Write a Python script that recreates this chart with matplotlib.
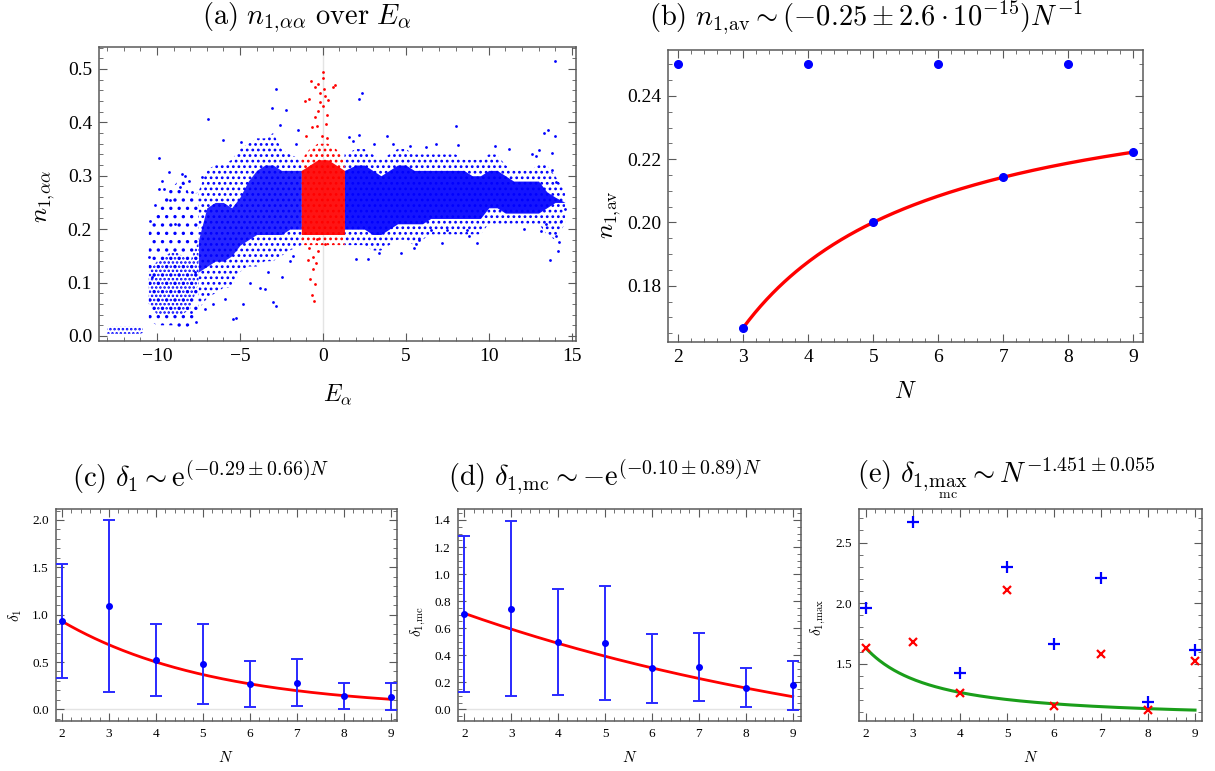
import numpy as np
import matplotlib
matplotlib.use("Agg")
import matplotlib.pyplot as plt
from matplotlib.ticker import MultipleLocator, FormatStrFormatter

plt.rcParams["mathtext.fontset"] = "cm"
plt.rcParams["font.family"] = ["Liberation Serif", "DejaVu Serif"]
plt.rcParams["hatch.linewidth"] = 1.2

# ---------------- panel (a): n_{1,aa} over E_a ----------------
# dense bands read off the scatter cloud (x, core low/high, halo low/high)
cluster_x = [-13.0, -12.0, -11.0, -10.85]
cluster_lo = [0.004, 0.004, 0.004, 0.006]
cluster_hi = [0.017, 0.018, 0.017, 0.016]

far_x = [-10.5, -10.0, -9.5, -9.0, -8.5, -8.0, -7.5]
far_core_lo = [0.06, 0.04, 0.04, 0.04, 0.04, 0.05, 0.10]
far_core_hi = [0.12, 0.14, 0.15, 0.16, 0.15, 0.14, 0.18]
far_halo_lo = [0.03, 0.02, 0.02, 0.02, 0.01, 0.02, 0.05]
far_halo_hi = [0.20, 0.24, 0.27, 0.28, 0.30, 0.26, 0.27]

left_x = [-7.5, -7.0, -6.5, -6.0, -5.5, -5.0, -4.5, -4.0, -3.5, -3.0, -2.5, -2.0, -1.3]
left_core_lo = [0.12, 0.13, 0.14, 0.14, 0.15, 0.17, 0.18, 0.19, 0.19, 0.19, 0.19, 0.20, 0.20]
left_core_hi = [0.18, 0.24, 0.25, 0.25, 0.24, 0.26, 0.29, 0.31, 0.32, 0.32, 0.31, 0.31, 0.31]
left_halo_lo = [0.05, 0.07, 0.08, 0.09, 0.09, 0.12, 0.13, 0.13, 0.14, 0.14, 0.15, 0.16, 0.17]
left_halo_hi = [0.27, 0.31, 0.32, 0.32, 0.33, 0.35, 0.36, 0.37, 0.37, 0.38, 0.35, 0.34, 0.33]

mid_x = [-1.3, -0.8, -0.3, 0.3, 0.8, 1.3]
mid_core_lo = [0.19, 0.19, 0.19, 0.19, 0.19, 0.19]
mid_core_hi = [0.31, 0.32, 0.33, 0.33, 0.32, 0.31]
mid_halo_lo = [0.17, 0.17, 0.17, 0.17, 0.17, 0.17]
mid_halo_hi = [0.33, 0.35, 0.36, 0.36, 0.35, 0.33]

right_x = [1.3, 2.0, 2.5, 3.0, 3.5, 4.0, 4.5, 5.0, 5.5, 6.0, 6.5, 7.0, 7.5, 8.0,
           8.5, 9.0, 9.5, 10.0, 10.5, 11.0, 11.5, 12.0, 12.5, 13.0, 13.5, 14.0, 14.6]
right_core_lo = [0.20, 0.20, 0.20, 0.19, 0.19, 0.20, 0.21, 0.21, 0.21, 0.21, 0.22,
                 0.22, 0.22, 0.22, 0.22, 0.22, 0.22, 0.24, 0.24, 0.23, 0.23, 0.23,
                 0.23, 0.23, 0.24, 0.25, 0.25]
right_core_hi = [0.31, 0.32, 0.32, 0.31, 0.30, 0.31, 0.32, 0.32, 0.31, 0.31, 0.31,
                 0.31, 0.31, 0.31, 0.31, 0.30, 0.30, 0.31, 0.31, 0.30, 0.29, 0.29,
                 0.29, 0.29, 0.27, 0.26, 0.25]
right_halo_lo = [0.17, 0.17, 0.17, 0.16, 0.16, 0.17, 0.18, 0.18, 0.17, 0.18, 0.19,
                 0.19, 0.19, 0.19, 0.19, 0.19, 0.19, 0.21, 0.21, 0.21, 0.21, 0.21,
                 0.21, 0.21, 0.19, 0.18, 0.21]
right_halo_hi = [0.34, 0.35, 0.35, 0.34, 0.33, 0.34, 0.35, 0.35, 0.34, 0.34, 0.34,
                 0.34, 0.34, 0.34, 0.33, 0.33, 0.33, 0.34, 0.34, 0.32, 0.31, 0.31,
                 0.31, 0.32, 0.32, 0.30, 0.27]

# scattered single points outside the bands
blue_out_x = [-9.9, -9.29, -8.49, -8.3, -9.86, -9.6, -8.63, -10.48, -10.32,
              -6.94, -7.88, -7.28, -6.04, -4.93, -2.82, -3.08, -2.21, -2.61,
              -5.42, -5.22, -3.02, -2.82, -4.82, -3.52, -2.48, -7.64, -7.94,
              2.34, 2.2, 2.18, 1.6, 3.85, 2.0, 3.4, -1.78, -1.5,
              8.04, 8.12, 6.2, 5.25, 5.59, 5.79, 5.49, 8.8, 8.66, 7.5, 6.5,
              14.0, 13.58, 13.34, 14.0, 13.8, 13.7, 14.18, 14.24, 14.08, 14.6,
              14.34, 14.04, 13.84, 13.0, 12.86, 13.14, 13.44,
              -10.4, -10.1, -9.7, -9.2, -8.9, -8.1, -7.7, -7.1, -6.6, -5.9,
              -4.4, -3.8, -3.3, -2.0, -1.6, 1.8, 2.7, 3.1, 4.2, 4.7, 6.8,
              7.2, 9.3, 10.4, 11.2, 12.1, 12.6]
blue_out_y = [0.333, 0.307, 0.304, 0.300, 0.276, 0.275, 0.278, 0.148, 0.111,
              0.407, 0.269, 0.298, 0.366, 0.363, 0.463, 0.426, 0.423, 0.395,
              0.032, 0.034, 0.064, 0.057, 0.060, 0.088, 0.110, 0.027, 0.045,
              0.454, 0.443, 0.377, 0.372, 0.374, 0.144, 0.155, 0.150, 0.385,
              0.393, 0.357, 0.354, 0.355, 0.173, 0.180, 0.164, 0.188, 0.199, 0.198, 0.199,
              0.514, 0.386, 0.380, 0.375, 0.343, 0.143, 0.159, 0.176, 0.188, 0.238,
              0.216, 0.289, 0.311, 0.348, 0.337, 0.197, 0.209,
              0.215, 0.245, 0.29, 0.255, 0.21, 0.29, 0.12, 0.05, 0.06, 0.07,
              0.10, 0.09, 0.12, 0.14, 0.36, 0.365, 0.145, 0.36, 0.36, 0.155, 0.36,
              0.175, 0.175, 0.355, 0.35, 0.2, 0.34]
red_out_x = [-0.01, 0.03, -0.73, -0.27, -0.45, 0.59, 0.73, 0.07, -0.17, 0.13,
             -0.81, -1.07, 0.33, -0.17, 0.03, -0.27, 0.23, -0.47, 0.19, -0.37,
             -0.67, -0.05, -1.01, 0.23,
             -0.37, -0.81, -0.27, -0.57, -0.87, -0.41, -0.57, -0.77, -0.47,
             -0.67, -0.53, 0.13]
red_out_y = [0.494, 0.483, 0.477, 0.472, 0.466, 0.467, 0.469, 0.463, 0.454, 0.449,
             0.444, 0.440, 0.441, 0.438, 0.430, 0.421, 0.413, 0.410, 0.396, 0.394,
             0.391, 0.374, 0.374, 0.371,
             0.182, 0.164, 0.159, 0.148, 0.143, 0.137, 0.126, 0.107, 0.097,
             0.076, 0.066, 0.173]

# ---------------- panel (b) ----------------
b_N = [2, 3, 4, 5, 6, 7, 8, 9]
b_n1av = [0.25, 0.1667, 0.25, 0.2, 0.25, 0.2143, 0.25, 0.2222]
b_fit_const, b_fit_coef = 0.25, -0.25          # n = c + a / N  (odd N)

# ---------------- panel (c) ----------------
c_N = [2, 3, 4, 5, 6, 7, 8, 9]
c_delta = [0.933, 1.092, 0.521, 0.479, 0.268, 0.282, 0.144, 0.134]
c_err = [0.60, 0.91, 0.38, 0.425, 0.24, 0.245, 0.135, 0.145]
c_fit_amp, c_fit_rate = 1.729, -0.31

# ---------------- panel (d) ----------------
d_N = [2, 3, 4, 5, 6, 7, 8, 9]
d_delta = [0.703, 0.745, 0.498, 0.488, 0.303, 0.316, 0.160, 0.177]
d_err = [0.578, 0.648, 0.395, 0.421, 0.256, 0.252, 0.144, 0.184]
d_fit_off, d_fit_amp, d_fit_rate = -0.514, 1.495, -0.10

# ---------------- panel (e) ----------------
e_N = [2, 3, 4, 5, 6, 7, 8, 9]
e_max = [1.956, 2.674, 1.420, 2.299, 1.660, 2.205, 1.183, 1.610]
e_max_mc = [1.627, 1.679, 1.256, 2.107, 1.152, 1.581, 1.116, 1.522]
e_fit_off, e_fit_amp, e_fit_exp = 1.051, 1.575, -1.451

W, H = 1215, 771
fig = plt.figure(figsize=(W / 100, H / 100), dpi=100)


def box(l, r, t, b):
    return [l / W, 1 - b / H, (r - l) / W, (b - t) / H]


def frame(ax, size):
    for sp in ax.spines.values():
        sp.set_color("#5a5a5a")
        sp.set_linewidth(1.1)
    ax.tick_params(which="both", direction="in", top=True, right=True,
                   color="#5a5a5a", labelsize=size, pad=5)
    ax.tick_params(which="major", length=6, width=0.8)
    ax.tick_params(which="minor", length=3, width=0.6)


def dotted_band(ax, x, lo, hi, color, hatch):
    # sparse part of the cloud: dotted texture instead of a flat tint
    ax.fill_between(x, lo, hi, facecolor="none", edgecolor=color, hatch=hatch, lw=0)


BLUE = "#0000ff"
RED = "#ff0000"
TITLE = 20.5

# ---- (a) ----
ax = fig.add_axes(box(99, 576, 47, 341))
ax.axvline(0, color="#e4e4e4", lw=1, zorder=0)
dotted_band(ax, cluster_x, cluster_lo, cluster_hi, BLUE, "....")
dotted_band(ax, far_x, far_halo_lo, far_halo_hi, BLUE, "..")
dotted_band(ax, far_x, far_core_lo, far_core_hi, BLUE, "....")
dotted_band(ax, left_x, left_halo_lo, left_halo_hi, BLUE, "...")
ax.fill_between(left_x, left_core_lo, left_core_hi, color=BLUE, alpha=0.85, lw=0)
dotted_band(ax, right_x, right_halo_lo, right_halo_hi, BLUE, "...")
ax.fill_between(right_x, right_core_lo, right_core_hi, color=BLUE, alpha=0.92, lw=0)
dotted_band(ax, mid_x, mid_halo_lo, mid_halo_hi, RED, "...")
ax.fill_between(mid_x, mid_core_lo, mid_core_hi, color=RED, alpha=0.92, lw=0)
ax.scatter(blue_out_x, blue_out_y, s=4, color=BLUE, lw=0)
ax.scatter(red_out_x, red_out_y, s=4, color=RED, lw=0)
ax.set_xlim(-13.5, 15.26)
ax.set_ylim(-0.0094, 0.541)
ax.xaxis.set_major_locator(MultipleLocator(5))
ax.xaxis.set_minor_locator(MultipleLocator(1))
ax.yaxis.set_major_locator(MultipleLocator(0.1))
ax.yaxis.set_minor_locator(MultipleLocator(0.02))
ax.yaxis.set_major_formatter(FormatStrFormatter("%.1f"))
frame(ax, 14)
fig.text(307 / W, 1 - 18 / H, r"$\mathrm{(a)}\ n_{1,\!\alpha\alpha}\ \mathrm{over}\ E_\alpha$",
         ha="center", va="center", fontsize=TITLE)
fig.text(338 / W, 1 - 395 / H, r"$E_\alpha$", ha="center", va="center", fontsize=17)
fig.text(46 / W, 1 - 197 / H, r"$n_{1,\!\alpha\alpha}$", ha="center", va="center",
         rotation=90, fontsize=18)

# ---- (b) ----
ax = fig.add_axes(box(668.5, 1143, 50, 342))
Nf = np.linspace(3, 9, 200)
ax.plot(Nf, b_fit_const + b_fit_coef / Nf, color=RED, lw=2.4, zorder=2)
ax.plot(b_N, b_n1av, "o", color=BLUE, ms=5.5, zorder=3)
ax.set_xlim(1.854, 9.146)
ax.set_ylim(0.1622, 0.2545)
ax.xaxis.set_major_locator(MultipleLocator(1))
ax.xaxis.set_minor_locator(MultipleLocator(0.2))
ax.yaxis.set_major_locator(MultipleLocator(0.02))
ax.yaxis.set_minor_locator(MultipleLocator(0.005))
ax.yaxis.set_major_formatter(FormatStrFormatter("%.2f"))
frame(ax, 14)
fig.text(866 / W, 1 - 18 / H,
         r"$\mathrm{(b)}\ n_{1,\!\mathrm{av}}\sim(-0.25\pm2.6\cdot10^{-15})N^{-1}$",
         ha="center", va="center", fontsize=TITLE)
fig.text(905 / W, 1 - 393 / H, r"$N$", ha="center", va="center", fontsize=17)
fig.text(612 / W, 1 - 215 / H, r"$n_{1,\!\mathrm{av}}$", ha="center", va="center",
         rotation=90, fontsize=18)


def small_panel(l, r):
    ax = fig.add_axes(box(l, r, 509.3, 721))
    ax.xaxis.set_major_locator(MultipleLocator(1))
    ax.xaxis.set_minor_locator(MultipleLocator(0.2))
    frame(ax, 9.5)
    return ax


Nf = np.linspace(2, 9, 200)

# ---- (c) ----
ax = small_panel(55.7, 397.3)
ax.axhline(0, color="#e4e4e4", lw=1, zorder=0)
ax.plot(Nf, c_fit_amp * np.exp(c_fit_rate * Nf), color=RED, lw=2, zorder=2)
ax.errorbar(c_N, c_delta, yerr=c_err, fmt="o", color=BLUE, ecolor="#2a2aff",
            ms=4, elinewidth=1.4, capsize=4, capthick=1.4, zorder=3)
ax.set_xlim(1.866, 9.14)
ax.set_ylim(-0.123, 2.113)
ax.yaxis.set_major_locator(MultipleLocator(0.5))
ax.yaxis.set_minor_locator(MultipleLocator(0.1))
ax.yaxis.set_major_formatter(FormatStrFormatter("%.1f"))
fig.text(201 / W, 1 - 477 / H, r"$\mathrm{(c)}\ \delta_1\sim\mathrm{e}^{(-0.29\pm0.66)N}$",
         ha="center", va="center", fontsize=TITLE)
fig.text(226 / W, 1 - 757 / H, r"$N$", ha="center", va="center", fontsize=11)
fig.text(15 / W, 1 - 615 / H, r"$\delta_1$", ha="center", va="center",
         rotation=90, fontsize=11)

# ---- (d) ----
ax = small_panel(457.7, 800.7)
ax.axhline(0, color="#e4e4e4", lw=1, zorder=0)
ax.plot(Nf, d_fit_off + d_fit_amp * np.exp(d_fit_rate * Nf), color=RED, lw=2, zorder=2)
ax.errorbar(d_N, d_delta, yerr=d_err, fmt="o", color=BLUE, ecolor="#2a2aff",
            ms=4, elinewidth=1.4, capsize=4, capthick=1.4, zorder=3)
ax.set_xlim(1.86, 9.17)
ax.set_ylim(-0.086, 1.479)
ax.yaxis.set_major_locator(MultipleLocator(0.2))
ax.yaxis.set_minor_locator(MultipleLocator(0.05))
ax.yaxis.set_major_formatter(FormatStrFormatter("%.1f"))
fig.text(605 / W, 1 - 477 / H,
         r"$\mathrm{(d)}\ \delta_{1,\!\mathrm{mc}}\sim{-}\mathrm{e}^{(-0.10\pm0.89)N}$",
         ha="center", va="center", fontsize=TITLE)
fig.text(630 / W, 1 - 757 / H, r"$N$", ha="center", va="center", fontsize=11)
fig.text(418 / W, 1 - 622 / H, r"$\delta_{1,\!\mathrm{mc}}$", ha="center", va="center",
         rotation=90, fontsize=11)

# ---- (e) ----
ax = small_panel(859.3, 1202.3)
ax.plot(Nf, e_fit_off + e_fit_amp * Nf ** e_fit_exp, color="#1a9e1a", lw=2.2, zorder=2)
ax.plot(e_N, e_max, "+", color=BLUE, ms=8, mew=1.6, zorder=3)
ax.plot(e_N, e_max_mc, "x", color=RED, ms=6, mew=1.6, zorder=3)
ax.set_xlim(1.857, 9.155)
ax.set_ylim(1.026, 2.775)
ax.yaxis.set_major_locator(MultipleLocator(0.5))
ax.yaxis.set_minor_locator(MultipleLocator(0.1))
ax.yaxis.set_major_formatter(FormatStrFormatter("%.1f"))
fig.text(1006 / W, 1 - 479 / H,
         r"$\mathrm{(e)}\ \delta_{1,\!\underset{\mathrm{mc}}{\mathrm{max}}}\sim N^{-1.451\pm0.055}$",
         ha="center", va="center", fontsize=TITLE)
fig.text(1031 / W, 1 - 757 / H, r"$N$", ha="center", va="center", fontsize=11)
fig.text(818 / W, 1 - 617 / H, r"$\delta_{1,\!\mathrm{max}}$", ha="center", va="center",
         rotation=90, fontsize=11)

fig.savefig("out.png", dpi=100)
